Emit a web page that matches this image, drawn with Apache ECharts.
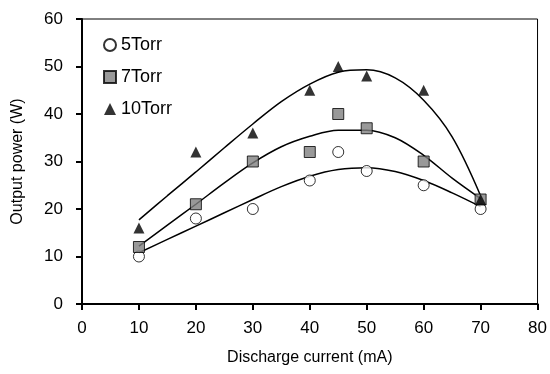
<!DOCTYPE html>
<html>
<head>
    <meta charset="UTF-8">
    <script src="https://cdn.jsdelivr.net/npm/echarts@6/dist/echarts.min.js"></script>
    <style>
        html, body { margin: 0; padding: 0; background: #fff; }
    </style>
</head>
<body>
<div id="main" style="width: 550px; height: 374px;"></div>
<script type="text/javascript">
    // measured points
    var current = [10, 20, 30, 40, 45, 50, 60, 70];
    var p5 = [10, 18, 20, 26, 32, 28, 25, 20];
    var p7 = [12, 21, 30, 32, 40, 37, 30, 22];
    var p10 = [16, 32, 36, 45, 50, 48, 45, 22];

    // trend lines
    var fitX = [10, 15, 20, 25, 30, 35, 40, 45, 50, 55, 60, 65, 70];
    var fit5 = [10.8, 13.6, 16.4, 19.2, 22.0, 24.7, 26.9, 28.3, 28.7, 27.9, 26.0, 23.4, 20.5];
    var fit7 = [12.2, 16.6, 21.0, 25.5, 29.7, 33.1, 35.3, 36.6, 36.6, 35.0, 31.3, 26.5, 22.2];
    var fit10 = [17.7, 22.8, 27.8, 32.9, 37.9, 42.6, 46.3, 48.8, 49.3, 47.6, 42.9, 35.2, 22.8];

    var xTicks = [0, 80, 10];
    var yTicks = [0, 60, 10];

    function pairs(xs, ys) {
        var out = [];
        for (var i = 0; i < xs.length; i++) out.push([xs[i], ys[i]]);
        return out;
    }

    var font = "'Liberation Sans', Arial, sans-serif";

    function fitLine(data) {
        return {
            type: 'line',
            data: pairs(fitX, data),
            smooth: 0.35,
            showSymbol: false,
            silent: true,
            z: 2,
            lineStyle: { color: '#000', width: 1.5 }
        };
    }

    var myChart = echarts.init(document.getElementById('main'));
    var option = {
        animation: false,
        backgroundColor: '#fff',
        textStyle: { fontFamily: font },
        grid: {
            left: 82, right: 9, top: 19, bottom: 70,
            show: true,
            borderColor: '#000',
            borderWidth: 1
        },
        legend: {
            orient: 'vertical',
            left: 98,
            top: 31,
            itemWidth: 12,
            itemHeight: 12,
            itemGap: 14,
            textStyle: { fontFamily: font, fontSize: 18, color: '#000', lineHeight: 18 },
            data: ['5Torr', '7Torr', '10Torr']
        },
        xAxis: {
            type: 'value',
            min: xTicks[0], max: xTicks[1], interval: xTicks[2],
            name: 'Discharge current (mA)',
            nameLocation: 'middle',
            nameGap: 46,
            nameTextStyle: { fontFamily: font, fontSize: 16, color: '#000' },
            axisLine: { show: true, lineStyle: { color: '#000', width: 2 } },
            axisTick: { show: true, inside: false, length: 6, lineStyle: { color: '#000', width: 2 } },
            axisLabel: { fontFamily: font, fontSize: 17, color: '#000', margin: 16 },
            splitLine: { show: false }
        },
        yAxis: {
            type: 'value',
            min: yTicks[0], max: yTicks[1], interval: yTicks[2],
            name: 'Output power (W)',
            nameLocation: 'middle',
            nameGap: 56,
            nameTextStyle: { fontFamily: font, fontSize: 16, color: '#000' },
            axisLine: { show: true, lineStyle: { color: '#000', width: 2 } },
            axisTick: { show: true, inside: false, length: 6, lineStyle: { color: '#000', width: 2 } },
            axisLabel: { fontFamily: font, fontSize: 17, color: '#000', margin: 19 },
            splitLine: { show: false }
        },
        series: [
            fitLine(fit5),
            fitLine(fit7),
            fitLine(fit10),
            {
                name: '5Torr',
                type: 'scatter',
                data: pairs(current, p5),
                symbol: 'circle',
                symbolSize: 11,
                z: 3,
                itemStyle: { color: '#fff', borderColor: '#000', borderWidth: 1 }
            },
            {
                name: '7Torr',
                type: 'scatter',
                data: pairs(current, p7),
                symbol: 'rect',
                symbolSize: 11,
                z: 3,
                itemStyle: { color: '#808080', borderColor: '#000', borderWidth: 1 }
            },
            {
                name: '10Torr',
                type: 'scatter',
                data: pairs(current, p10),
                symbol: 'triangle',
                symbolSize: 11,
                z: 3,
                itemStyle: { color: '#000' }
            }
        ]
    };
    myChart.setOption(option);
</script>
</body>
</html>
